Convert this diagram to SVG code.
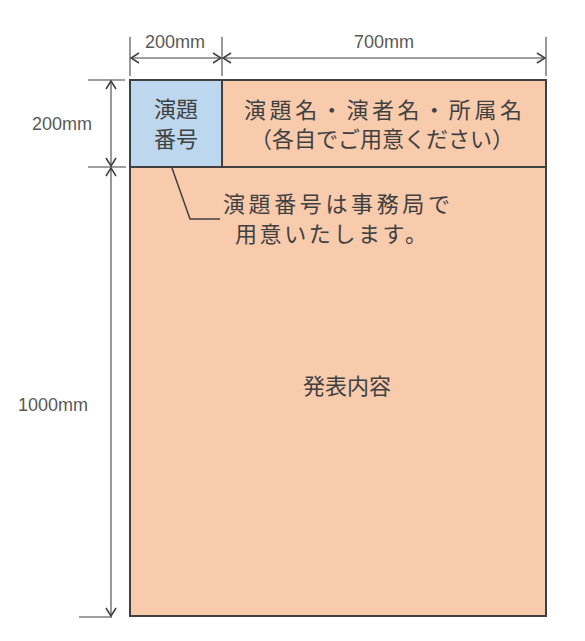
<svg xmlns="http://www.w3.org/2000/svg" width="585" height="641" viewBox="0 0 585 641">
<style>
.jp{font-family:"Noto Sans CJK JP","Noto Sans",sans-serif;font-size:22px;fill:#404040;}
.dim{font-family:"Liberation Sans",Arial,sans-serif;font-size:18px;fill:#595959;}
.dl{stroke:#7f7f7f;stroke-width:1.6;fill:none;}
.ext{stroke:#7f7f7f;stroke-width:1.6;fill:none;}
.box{stroke:#404040;stroke-width:2;}
</style>
<defs>
<marker id="ah" markerWidth="12" markerHeight="12" viewBox="-10 -6 12 12" refX="0" refY="0" orient="auto-start-reverse" markerUnits="userSpaceOnUse">
<path d="M-8,-5 L0,0 L-8,5" fill="none" stroke="#404040" stroke-width="1.5"/>
</marker>
</defs>
<rect width="585" height="641" fill="#ffffff"/>
<g id="content">
<rect x="130" y="80" width="416" height="536" fill="#F8CBAD" class="box"/>
</g>
<g id="header-title">
<rect x="222" y="80" width="324" height="87" fill="#F8CBAD" class="box"/>
<text class="jp" x="383" y="118" text-anchor="middle" textLength="278" lengthAdjust="spacing">演題名・演者名・所属名</text>
<text class="jp" x="382" y="147" text-anchor="middle">（各自でご用意ください）</text>
</g>
<g id="number-box">
<rect x="130" y="80" width="92" height="87" fill="#BDD7EE" class="box"/>
<text class="jp" x="176" y="117" text-anchor="middle">演題</text>
<text class="jp" x="176" y="147" text-anchor="middle">番号</text>
</g>
<g id="note">
<text class="jp" x="223" y="212" textLength="227" lengthAdjust="spacing">演題番号は事務局で</text>
<text class="jp" x="235" y="242" textLength="192" lengthAdjust="spacing">用意いたします。</text>
</g>
<g id="body-label">
<text class="jp" x="347" y="394" text-anchor="middle" font-size="24">発表内容</text>
</g>
<g id="connectors">
<path d="M172,168 L190,219 L220,219" fill="none" stroke="#404040" stroke-width="1.5"/>
<line class="ext" x1="130" y1="37" x2="130" y2="76"/>
<line class="ext" x1="222" y1="37" x2="222" y2="76"/>
<line class="ext" x1="546" y1="37" x2="546" y2="76"/>
<line class="ext" x1="88" y1="80" x2="125" y2="80"/>
<line class="ext" x1="88" y1="167" x2="126" y2="167"/>
<line class="ext" x1="79" y1="617" x2="112" y2="617"/>
<line class="dl" x1="131" y1="58" x2="221" y2="58" marker-start="url(#ah)" marker-end="url(#ah)"/>
<line class="dl" x1="223" y1="58" x2="545" y2="58" marker-start="url(#ah)" marker-end="url(#ah)"/>
<line class="dl" x1="111" y1="81" x2="111" y2="166" marker-start="url(#ah)" marker-end="url(#ah)"/>
<line class="dl" x1="111" y1="168" x2="111" y2="616" marker-start="url(#ah)" marker-end="url(#ah)"/>
</g>
<g id="dim-labels">
<text class="dim" x="175" y="48" text-anchor="middle">200mm</text>
<text class="dim" x="384" y="48" text-anchor="middle">700mm</text>
<text class="dim" x="62" y="130" text-anchor="middle">200mm</text>
<text class="dim" x="53" y="411" text-anchor="middle">1000mm</text>
</g>
</svg>
